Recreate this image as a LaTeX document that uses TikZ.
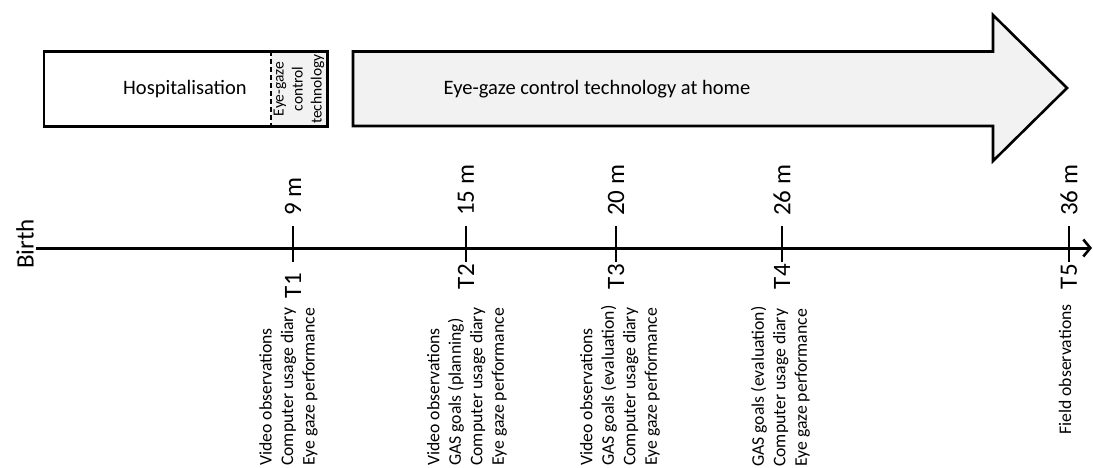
\documentclass[tikz,border=0pt]{standalone}
\usepackage{fontspec}
\setmainfont{Carlito}
\usetikzlibrary{arrows.meta}
\definecolor{lightfill}{HTML}{F2F2F2}
\begin{document}
\begin{tikzpicture}[x=1pt,y=-1pt,
  boxline/.style={line width=2.6pt},
  tickline/.style={line width=1.1pt},
  toplabel/.style={rotate=90, inner sep=0pt, anchor=west, font=\fontsize{25}{30}\selectfont},
  tlabel/.style={rotate=90, inner sep=0pt, anchor=east, font=\fontsize{25}{30}\selectfont},
  listlabel/.style={rotate=90, inner sep=0pt, anchor=west, align=left, font=\fontsize{17.7}{21.5}\selectfont},
  bandtext/.style={inner sep=0pt, font=\fontsize{20.5}{24}\selectfont},
]
\useasboundingbox (0,0) rectangle (1093,468);
% hospitalisation box
\node[fill=white, minimum width=227pt, minimum height=74.5pt, anchor=north west, inner sep=0pt] (hospbox) at (44,51.5) {};
\node[fill=lightfill, minimum width=56pt, minimum height=74.5pt, anchor=north west, inner sep=0pt] (egbox) at (271,51.5) {};
\draw[boxline, dash pattern=on 5pt off 3pt] (egbox.north west) -- (egbox.south west);
\draw[boxline] (hospbox.north west) rectangle (egbox.south east);
\node[bandtext] (hosptext) at (185,89) {Hospitalisation};
\node[rotate=90, align=center, inner sep=0pt, font=\fontsize{15.5}{19}\selectfont] (egtext) at (299,89) {Eye-gaze\\control\\technology};
% big arrow
\draw[boxline, fill=lightfill, line join=miter]
  (353,51.5) -- (993,51.5) -- (993,15) -- (1067,88) -- (993,161) -- (993,126) -- (353,126) -- cycle;
\node[bandtext] (hometext) at (597,89) {Eye-gaze control technology at home};
% timeline
\coordinate (birth) at (36,248);
\coordinate (axisend) at (1092,248);
\draw[line width=3pt, -{Straight Barb[length=7pt,width=17pt,line width=2.6pt]}] (birth) -- (axisend);
\node[rotate=90, inner sep=0pt, font=\fontsize{25}{30}\selectfont] (birthlabel) at (25,244) {Birth};
% ticks
\foreach \name/\x in {t1/293, t2/466, t3/616, t4/782, t5/1069}{
  \coordinate (\name top) at (\x,226);
  \coordinate (\name bot) at (\x,262);
  \draw[tickline] (\name top) -- (\name bot);
}
\node[toplabel] (m9) at (293,216) {9 m};
\node[toplabel] (m15) at (466,216) {15 m};
\node[toplabel] (m20) at (616,216) {20 m};
\node[toplabel] (m26) at (782,216) {26 m};
\node[toplabel] (m36) at (1069,216) {36 m};
\node[tlabel] (T1) at (293,273) {T1};
\node[tlabel] (T2) at (466,264) {T2};
\node[tlabel] (T3) at (616,264) {T3};
\node[tlabel] (T4) at (782,264) {T4};
\node[tlabel] (T5) at (1069,264) {T5};
% measurement lists
\node[listlabel] (L1) at (288.5,466) {Video observations\\Computer usage diary\\Eye gaze performance};
\node[listlabel] (L2) at (467,466) {Video observations\\GAS goals (planning)\\Computer usage diary\\Eye gaze performance};
\node[listlabel] (L3) at (620,466) {Video observations\\GAS goals (evaluation)\\Computer usage diary\\Eye gaze performance};
\node[listlabel] (L4) at (780.5,467) {GAS goals (evaluation)\\Computer usage diary\\Eye gaze performance};
\node[listlabel] (L5) at (1065,435) {Field observations};
\end{tikzpicture}
\end{document}
